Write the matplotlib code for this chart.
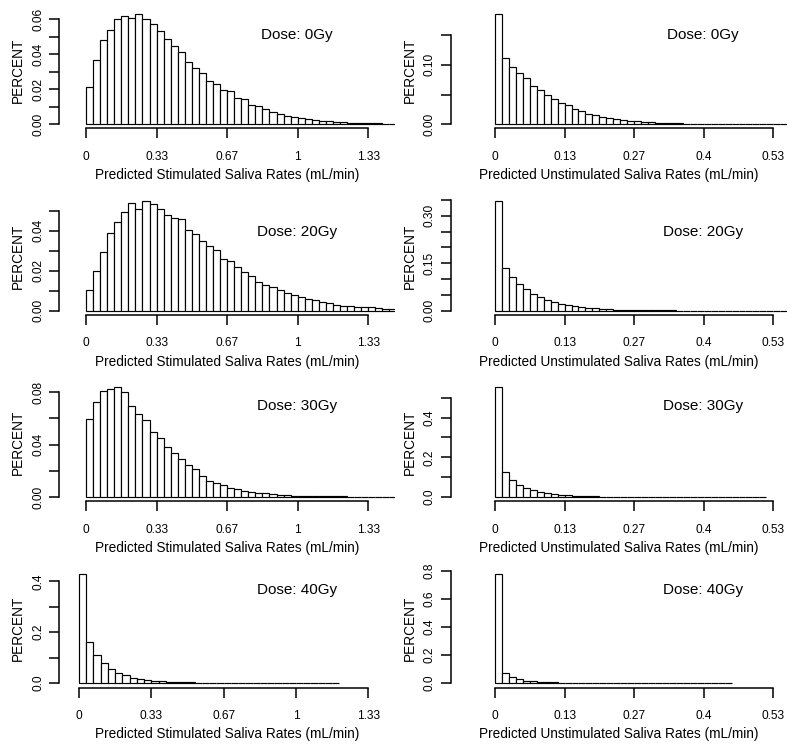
"""Predicted saliva-rate histograms by dose (stimulated / unstimulated), 4x2 panels."""
import numpy as np
import matplotlib
matplotlib.use("Agg")
import matplotlib.pyplot as plt

plt.rcParams["font.family"] = ["Liberation Sans", "DejaVu Sans"]

W, H = 797, 745

# bin widths (mL/min)
STIM_BIN = 1 / 30
UNSTIM_BIN = 1 / 75

stim_0gy = [0.0211, 0.0368, 0.0480, 0.0541, 0.0604, 0.0619, 0.0610, 0.0629, 0.0600, 0.0575,
            0.0535, 0.0486, 0.0450, 0.0415, 0.0354, 0.0322, 0.0295, 0.0250, 0.0232, 0.0198,
            0.0189, 0.0149, 0.0143, 0.0109, 0.0103, 0.0086, 0.0072, 0.0061, 0.0048, 0.0044,
            0.0034, 0.0031, 0.0023, 0.0021, 0.0017, 0.0013, 0.0011, 0.0010, 0.0008, 0.0007,
            0.0006, 0.0005, 0.0004, 0.0003]
stim_20gy = [0.0102, 0.0200, 0.0295, 0.0390, 0.0445, 0.0492, 0.0537, 0.0507, 0.0548, 0.0532,
             0.0510, 0.0478, 0.0463, 0.0460, 0.0403, 0.0382, 0.0348, 0.0323, 0.0302, 0.0258,
             0.0247, 0.0217, 0.0193, 0.0173, 0.0143, 0.0127, 0.0118, 0.0103, 0.0090, 0.0078,
             0.0067, 0.0058, 0.0052, 0.0045, 0.0037, 0.0030, 0.0025, 0.0023, 0.0020, 0.0020,
             0.0018, 0.0013, 0.0010, 0.0010]
stim_30gy = [0.0599, 0.0729, 0.0808, 0.0823, 0.0838, 0.0800, 0.0698, 0.0634, 0.0586, 0.0497,
             0.0453, 0.0380, 0.0336, 0.0288, 0.0247, 0.0217, 0.0160, 0.0122, 0.0104, 0.0092,
             0.0066, 0.0059, 0.0048, 0.0041, 0.0033, 0.0028, 0.0023, 0.0018, 0.0013, 0.0010,
             0.0009, 0.0008, 0.0007, 0.0006, 0.0005, 0.0005, 0.0004, 0.0003, 0.0003, 0.0002,
             0.0002, 0.0002, 0.0001, 0.0001]
stim_40gy = [0.429, 0.163, 0.110, 0.077, 0.056, 0.041, 0.030, 0.021, 0.0144, 0.0105,
             0.0079, 0.0059, 0.0046, 0.0033, 0.0026, 0.0020, 0.0016, 0.0013, 0.0010, 0.0008,
             0.0006, 0.0005, 0.0004, 0.0003, 0.0003, 0.0002, 0.0002, 0.0002, 0.0001, 0.0001,
             0.0001, 0.0001, 0.0001, 0.0, 0.0, 0.0]

unstim_0gy = [0.185, 0.111, 0.096, 0.087, 0.077, 0.065, 0.058, 0.049, 0.043, 0.0365,
              0.0326, 0.026, 0.0225, 0.018, 0.015, 0.013, 0.0107, 0.009, 0.0067, 0.0056,
              0.0050, 0.0039, 0.0034, 0.0028, 0.0023, 0.0019, 0.0016, 0.0013, 0.0011, 0.0009,
              0.0008, 0.0007, 0.0006, 0.0005, 0.0004, 0.0004, 0.0003, 0.0003, 0.0002, 0.0002,
              0.0002, 0.0001]
unstim_20gy = [0.346, 0.136, 0.105, 0.085, 0.068, 0.053, 0.042, 0.035, 0.027, 0.022,
               0.018, 0.0147, 0.0116, 0.0095, 0.0074, 0.0058, 0.0047, 0.0037, 0.0032, 0.0026,
               0.0021, 0.0017, 0.0014, 0.0011, 0.0009, 0.0007, 0.0006, 0.0005, 0.0004, 0.0003,
               0.0003, 0.0002, 0.0002, 0.0002, 0.0001, 0.0001, 0.0001, 0.0001, 0.0001, 0.0001,
               0.0, 0.0]
unstim_30gy = [0.553, 0.126, 0.0857, 0.0605, 0.0454, 0.0336, 0.0252, 0.0185, 0.0134, 0.0101,
               0.0076, 0.0059, 0.0045, 0.0035, 0.0028, 0.0022, 0.0017, 0.0013, 0.0010, 0.0008,
               0.0006, 0.0005, 0.0004, 0.0003, 0.0003, 0.0002, 0.0002, 0.0002, 0.0001, 0.0001,
               0.0001, 0.0001, 0.0001, 0.0, 0.0, 0.0, 0.0, 0.0, 0.0]
unstim_40gy = [0.776, 0.0736, 0.0427, 0.026, 0.0166, 0.0119, 0.0083, 0.0060, 0.0044, 0.0032,
               0.0024, 0.0018, 0.0013, 0.0010, 0.0008, 0.0006, 0.0005, 0.0004, 0.0003, 0.0002,
               0.0002, 0.0002, 0.0001, 0.0001, 0.0001, 0.0001, 0.0, 0.0, 0.0, 0.0,
               0.0, 0.0, 0.0, 0.0]

doses = ["0Gy", "20Gy", "30Gy", "40Gy"]

stim_xticks = [0, 1 / 3, 2 / 3, 1, 4 / 3]
stim_xlabels = ["0", "0.33", "0.67", "1", "1.33"]
unstim_xticks = [0, 2 / 15, 4 / 15, 6 / 15, 8 / 15]
unstim_xlabels = ["0", "0.13", "0.27", "0.4", "0.53"]

# y ticks per panel (value, label); "" = tick only
yticks_stim = [
    ([0, 0.01, 0.02, 0.03, 0.04, 0.05, 0.06], ["0.00", "", "0.02", "", "0.04", "", "0.06"]),
    ([0, 0.01, 0.02, 0.03, 0.04, 0.05], ["0.00", "", "0.02", "", "0.04", ""]),
    ([0, 0.02, 0.04, 0.06, 0.08], ["0.00", "", "0.04", "", "0.08"]),
    ([0, 0.1, 0.2, 0.3, 0.4], ["0.0", "", "0.2", "", "0.4"]),
]
yticks_unstim = [
    ([0, 0.05, 0.10, 0.15], ["0.00", "", "0.10", ""]),
    ([0, 0.05, 0.10, 0.15, 0.20, 0.25, 0.30, 0.35], ["0.00", "", "", "0.15", "", "", "0.30", ""]),
    ([0, 0.1, 0.2, 0.3, 0.4, 0.5], ["0.0", "", "0.2", "", "0.4", ""]),
    ([0, 0.2, 0.4, 0.6, 0.8], ["0.0", "0.2", "0.4", "0.6", "0.8"]),
]

# pixel layout per row: (top, y-zero, x-axis line) and dose-label y
ROWS = [(12, 124.3, 128.3, 35), (197, 310.7, 315, 232), (383, 497, 501.3, 406), (568, 683, 687.7, 590)]
# y-top-tick pixel per panel
YTOP_STIM = [19.3, 210.7, 392.3, 581.3]
YTOP_UNSTIM = [35, 200, 397.8, 570.7]


def panel(fig, heights, binw, box, xticks, xlabels, yt, xlab, dose, dose_xy):
    L, R, X0, X1, T, Y0, B, YT = box
    ytv, ytl = yt
    xs = (X1 - X0) / xticks[-1]
    ys = (Y0 - YT) / ytv[-1]
    ax = fig.add_axes([L / W, 1 - B / H, (R - L) / W, (B - T) / H])
    ax.set_xlim((L - X0) / xs, (R - X0) / xs)
    ax.set_ylim(-(B - Y0) / ys, (Y0 - T) / ys)

    edges = np.arange(len(heights)) * binw
    ax.bar(edges, heights, width=binw, align="edge", facecolor="white",
           edgecolor="black", linewidth=0.85)

    for s in ("top", "right"):
        ax.spines[s].set_visible(False)
    ax.spines["left"].set_bounds(0, ytv[-1])
    ax.spines["bottom"].set_bounds(0, xticks[-1])
    for s in ("left", "bottom"):
        ax.spines[s].set_linewidth(1.1)

    ax.set_xticks(xticks, xlabels)
    ax.set_yticks(ytv, ytl)
    ax.tick_params(axis="both", length=7, width=1.1, labelsize=8.6)
    ax.tick_params(axis="x", pad=9)
    ax.tick_params(axis="y", pad=4)
    for lab in ax.get_yticklabels():
        lab.set_rotation(90)
        lab.set_va("center")
    ax.set_xlabel(xlab, fontsize=9.8, labelpad=4)
    ax.set_ylabel("PERCENT", fontsize=9.8, labelpad=5)
    fig.text(dose_xy[0] / W, 1 - dose_xy[1] / H, f"Dose: {dose}", fontsize=11,
             ha="center", va="center")
    return ax


def main() -> None:
    fig = plt.figure(figsize=(W / 100, H / 100), dpi=100)
    stim = [stim_0gy, stim_20gy, stim_30gy, stim_40gy]
    unstim = [unstim_0gy, unstim_20gy, unstim_30gy, unstim_40gy]
    for i, (T, Y0, B, dy) in enumerate(ROWS):
        x0 = 79 if i == 3 else 86
        panel(fig, stim[i], STIM_BIN, (59.3, 395, x0, 368.3, T, Y0, B, YTOP_STIM[i]),
              stim_xticks, stim_xlabels, yticks_stim[i],
              "Predicted Stimulated Saliva Rates (mL/min)", doses[i], (297, dy))
        panel(fig, unstim[i], UNSTIM_BIN, (450.7, 787, 495, 773.3, T, Y0, B, YTOP_UNSTIM[i]),
              unstim_xticks, unstim_xlabels, yticks_unstim[i],
              "Predicted Unstimulated Saliva Rates (mL/min)", doses[i], (703, dy))
    fig.savefig("out.png", dpi=100)
    plt.close(fig)


if __name__ == "__main__":
    main()
